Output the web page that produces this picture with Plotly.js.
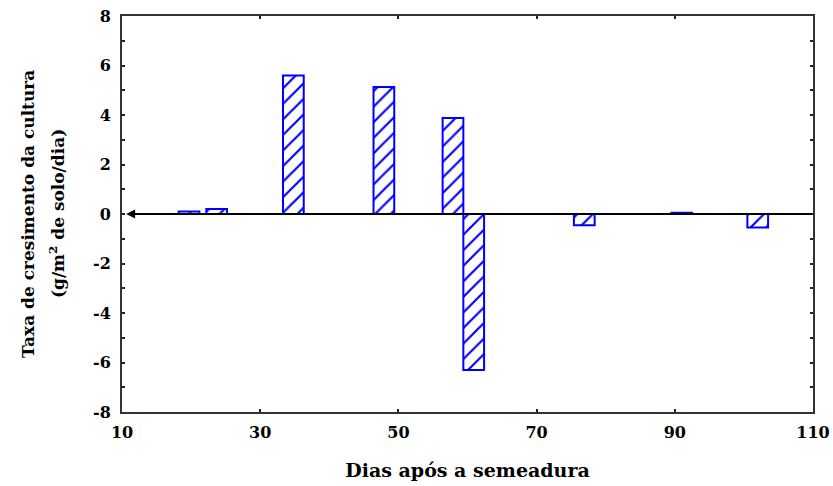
<!DOCTYPE html>
<html>
<head>
<meta charset="utf-8">
<script src="https://cdn.plot.ly/plotly-3.0.1.min.js"></script>
<style>html,body{margin:0;padding:0;background:#fff;}#chart{width:833px;height:486px;}</style>
</head>
<body>
<div id="chart"></div>
<script>
const days = [19.7, 23.7, 34.8, 47.9, 57.9, 60.9, 76.9, 91.0, 102.0];
const growthRate = [0.1, 0.2, 5.6, 5.13, 3.88, -6.3, -0.45, 0.05, -0.55];
const xTicks = [10, 30, 50, 70, 90, 110];
const yTicks = [-8, -6, -4, -2, 0, 2, 4, 6, 8];
const xTitle = 'Dias após a semeadura';
const yTitle1 = 'Taxa de cresimento da cultura';
const yTitle2 = '(g/m<sup>2</sup> de solo/dia)';

const fam = 'DejaVu Serif';
function f(size) { return {family: fam, size: size, color: '#000', weight: 'bold'}; }

const trace = {
  type: 'bar',
  x: days,
  y: growthRate,
  width: 3,
  marker: {
    color: '#ffffff',
    line: {color: '#0000ff', width: 2},
    pattern: {shape: '/', fgcolor: '#0000ff', bgcolor: '#ffffff', size: 11, solidity: 0.2}
  },
  hoverinfo: 'x+y'
};

const layout = {
  width: 833, height: 486,
  margin: {l: 121.5, r: 19.5, t: 15.5, b: 74},
  paper_bgcolor: '#fff', plot_bgcolor: '#fff',
  showlegend: false,
  font: f(16),
  xaxis: {
    range: [10, 110], tickvals: xTicks, ticktext: xTicks.map(String),
    showgrid: false, zeroline: false,
    showline: true, mirror: 'ticks', linecolor: '#333', linewidth: 2,
    ticks: 'inside', ticklen: 3, tickwidth: 2, tickcolor: '#222',
    tickfont: f(16),
    ticklabelstandoff: 5,
    title: {text: xTitle, font: f(19), standoff: 22}
  },
  yaxis: {
    range: [-8, 8], tickvals: yTicks, ticktext: yTicks.map(String),
    showgrid: false, zeroline: false,
    showline: true, mirror: 'ticks', linecolor: '#333', linewidth: 2,
    ticks: 'inside', ticklen: 3, tickwidth: 2, tickcolor: '#222',
    minor: {dtick: 1, ticks: 'inside', ticklen: 3, tickwidth: 2, tickcolor: '#222', showgrid: false},
    tickfont: f(16),
    ticklabelstandoff: 6
  },
  annotations: [
    {xref: 'x', yref: 'y', x: 10.6, y: 0, ax: 110, ay: 0, axref: 'x', ayref: 'y',
     text: '', showarrow: true, arrowhead: 2, arrowsize: 0.9, arrowwidth: 2, arrowcolor: '#000'},
    {xref: 'paper', yref: 'paper', x: -0.136, y: 0.5, xanchor: 'center', yanchor: 'middle',
     textangle: -90, text: yTitle1, showarrow: false, font: f(17)},
    {xref: 'paper', yref: 'paper', x: -0.094, y: 0.5, xanchor: 'center', yanchor: 'middle',
     textangle: -90, text: yTitle2, showarrow: false, font: f(17)}
  ]
};

Plotly.newPlot('chart', [trace], layout, {displayModeBar: false, staticPlot: true});
</script>
</body>
</html>
